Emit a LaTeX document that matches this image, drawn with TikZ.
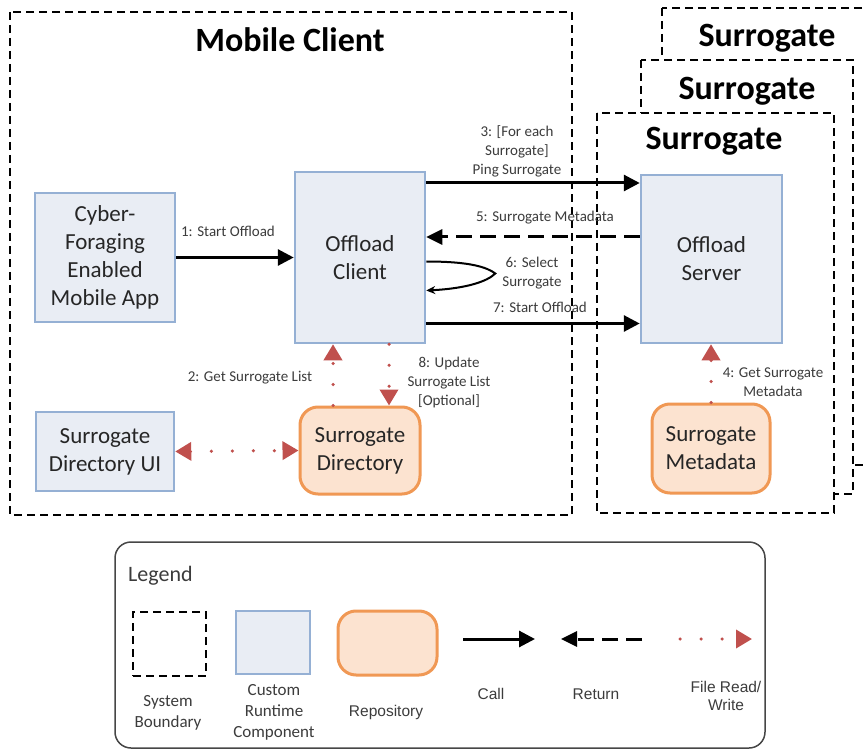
\documentclass[tikz,border=0pt]{standalone}
\usepackage{fontspec}
\setmainfont{Carlito}
\newfontfamily\arialfont{Liberation Sans}
\usetikzlibrary{arrows.meta}
\usetikzlibrary{positioning}
\definecolor{blkfill}{RGB}{233,237,244}
\definecolor{blkline}{RGB}{149,176,212}
\definecolor{repofill}{RGB}{252,227,208}
\definecolor{repoline}{RGB}{240,152,84}
\definecolor{rwred}{RGB}{192,80,77}
\definecolor{txt}{RGB}{38,38,38}
\definecolor{lbltxt}{RGB}{60,60,60}
\definecolor{lgline}{RGB}{70,70,70}

\begin{document}
\begin{tikzpicture}[x=1pt,y=-1pt,>=Stealth,
	comp/.style={draw=blkline,fill=blkfill,line width=2.5pt,align=center,text=txt,font=\fontsize{23}{28}\selectfont},
	repo/.style={draw=repoline,fill=repofill,line width=3pt,rounded corners=18pt,align=center,text=txt,font=\fontsize{23}{28}\selectfont},
	bound/.style={draw=black,fill=white,dash pattern=on 8pt off 5pt,line width=1.2pt},
	title/.style={font=\fontsize{34}{40}\selectfont\bfseries,inner sep=0pt},
	lbl/.style={align=center,text=lbltxt,font=\fontsize{15}{19}\selectfont,inner sep=0pt},
	lgtxt/.style={align=center,text=lbltxt,font=\fontsize{17}{21}\selectfont,inner sep=0pt},
	lgarial/.style={align=center,text=lbltxt,font=\arialfont\fontsize{15.5}{18}\selectfont,inner sep=0pt},
	call/.style={line width=3pt,-{Triangle[length=16pt,width=16pt]}},
	ret/.style={line width=3pt,dash pattern=on 16pt off 8pt,-{Triangle[length=16pt,width=15pt]}},
	rw/.style={rwred,line width=3.5pt,line cap=round,dash pattern=on 0pt off 21pt,-{Triangle[length=16pt,width=18pt]}},
	]
	\useasboundingbox (0,0) rectangle (867,751);
	\draw[bound] (10,12) rectangle (572,515);
	\node[title] (mctitle) at (290,40) {Mobile Client};
	\draw[bound] (662,8) rectangle (890,465);
	\node[title] (sgtitle3) at (767,38) {Surrogate};
	\draw[bound] (641,60) rectangle (853,494);
	\node[title] (sgtitle2) at (747,91) {Surrogate};
	\draw[bound] (597,113) rectangle (834,513);
	\node[title] (sgtitle1) at (714,141) {Surrogate};

	\node[comp,minimum width=140,minimum height=129] (app) at (105,257.5) {Cyber-\\Foraging\\Enabled\\Mobile App};
	\node[comp,minimum width=130,minimum height=171] (client) at (360,257.5) {Offload\\Client};
	\node[comp,minimum width=138,minimum height=79] (ui) at (105,451.5) {Surrogate\\Directory UI};
	\node[repo,minimum width=120,minimum height=87] (dir) at (360,450.5) {Surrogate\\Directory};
	\node[comp,minimum width=141,minimum height=168] (server) at (711.5,259) {Offload\\Server};
	\node[repo,minimum width=118,minimum height=89] (meta) at (711,448.5) {Surrogate\\Metadata};

	\draw[call] (app) -- (client);
	\coordinate (p3) at ([yshift=74.5pt]client.east);
	\draw[call] (p3) -- (p3 -| server.west);
	\coordinate (p5) at ([yshift=22pt]server.west);
	\draw[ret] (p5) -- (p5 -| client.east);
	\coordinate (s6a) at ([yshift=-4pt]client.east);
	\coordinate (s6b) at ([yshift=-33pt]client.east);
	\coordinate (s6c) at ([xshift=69pt,yshift=-16pt]client.east);
	\draw[line width=2pt,-{Stealth[length=9pt,width=8pt]}] (s6a) .. controls +(45,0) and +(-8,-6) .. (s6c) .. controls +(-8,8) and +(40,-2) .. (s6b);
	\coordinate (p7) at ([yshift=-66pt]client.east);
	\draw[call] (p7) -- (p7 -| server.west);
	\draw[rw] ([xshift=-27pt]dir.north) -- ([xshift=-27pt]client.south);
	\draw[rw] ([xshift=29pt]client.south) -- ([xshift=29pt]dir.north);
	\draw[rw,{Triangle[length=16pt,width=18pt]}-{Triangle[length=16pt,width=18pt]}] (ui.east) -- (dir.west);
	\draw[rw] (meta.north) -- (meta.north |- server.south);

	\node[lbl] (lab1) at (228,231) {1: Start Offload};
	\node[lbl] (lab2) at (250,378) {2: Get Surrogate List};
	\node[lbl] (lab3) at (517,151) {3: [For each\\Surrogate]\\Ping Surrogate};
	\node[lbl] (lab4) at (773,382) {4: Get Surrogate\\Metadata};
	\node[lbl] (lab5) at (545,218) {5: Surrogate Metadata};
	\node[lbl] (lab6) at (532,273.5) {6: Select\\Surrogate};
	\node[lbl] (lab7) at (540,307) {7: Start Offload};
	\node[lbl] (lab8) at (449,382) {8: Update\\Surrogate List\\{}[Optional]};

	\draw[lgline,line width=1.5pt,rounded corners=16pt] (115,542) rectangle (765,748);
	\node[anchor=west,text=lbltxt,font=\fontsize{22}{26}\selectfont,inner sep=0pt] (lgtitle) at (128,576) {Legend};
	\node[bound,minimum width=73,minimum height=64] (lgsys) at (169.5,644) {};
	\node[comp,minimum width=74,minimum height=63] (lgcomp) at (273,642.5) {};
	\node[repo,minimum width=99,minimum height=64] (lgrepo) at (387.5,643) {};
	\coordinate (lgcalla) at (463,639);
	\coordinate (lgcallb) at (535,639);
	\draw[call] (lgcalla) -- (lgcallb);
	\coordinate (lgreta) at (642,639);
	\coordinate (lgretb) at (561,639);
	\draw[ret] (lgreta) -- (lgretb);
	\coordinate (lgrwa) at (680,639);
	\coordinate (lgrwb) at (752,639);
	\draw[rw] (lgrwa) -- (lgrwb);
	\node[lgtxt] (lgsyst) at (168,712.5) {System\\Boundary};
	\node[lgtxt] (lgcompt) at (274,712) {Custom\\Runtime\\Component};
	\node[lgarial] (lgrepot) at (386,712) {Repository};
	\node[lgarial] (lgcallt) at (491,694) {Call};
	\node[lgarial] (lgrett) at (596,694) {Return};
	\node[lgarial] (lgrwt) at (726,695.5) {File Read/\\Write};
\end{tikzpicture}
\end{document}
